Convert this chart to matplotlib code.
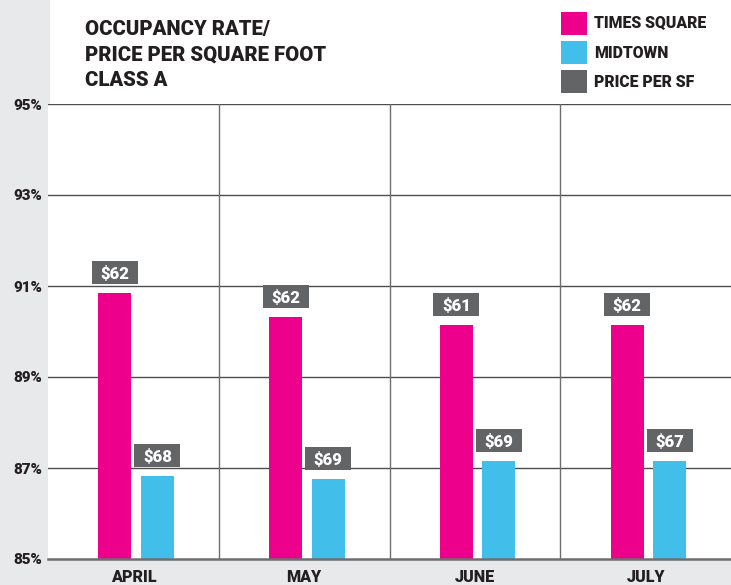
import matplotlib
matplotlib.use("Agg")
import matplotlib.pyplot as plt
from matplotlib.patches import Rectangle
import numpy as np

months = ["APRIL", "MAY", "JUNE", "JULY"]
times_square = [90.85, 90.32, 90.14, 90.14]
midtown = [86.82, 86.76, 87.15, 87.15]
ts_price = ["$62", "$62", "$61", "$62"]
mid_price = ["$68", "$69", "$69", "$67"]
yticks = [85, 87, 89, 91, 93, 95]
ytick_labels = ["85%", "87%", "89%", "91%", "93%", "95%"]
series_names = ["TIMES SQUARE", "MIDTOWN", "PRICE PER SF"]
title_lines = ["OCCUPANCY RATE/", "PRICE PER SQUARE FOOT", "CLASS A"]

PINK = "#ec008c"
BLUE = "#41bfea"
DGRAY = "#636466"
BG = "#e8e9eb"
TXT = "#231f20"
FONT = "Roboto"
WT = 900

W, H = 731, 585
fig = plt.figure(figsize=(W / 100, H / 100), dpi=100, facecolor=BG)

def fx(px):
    return px / W

def fy(py):
    return 1 - py / H

# white panel
fig.patches.append(Rectangle((fx(50), fy(558)), 1 - fx(50), fy(0) - fy(558),
                             transform=fig.transFigure, facecolor="white",
                             edgecolor="none", zorder=0))

ax_l, ax_r, ax_t, ax_b = 48, 731, 104, 559
ax = fig.add_axes([fx(ax_l), fy(ax_b), fx(ax_r - ax_l), fy(ax_t) - fy(ax_b)])
ax.set_zorder(3)
ax.set_facecolor("white")
ax.set_xlim(-0.5, 3.5)
ax.set_ylim(85, 95)

px_per_x = (ax_r - ax_l) / 4.0
px_per_y = (ax_b - ax_t) / 10.0

x = np.arange(len(months))
bw = 33 / px_per_x
off_p = -18.5 / px_per_x
off_b = 24 / px_per_x

for yv in yticks[1:]:
    ax.axhline(yv, color="#4d4d4f", lw=1.0, zorder=1)
for xv in [0.5, 1.5, 2.5]:
    ax.axvline(xv, color="#6d6e70", lw=1.0, zorder=1)

ax.bar(x + off_p, np.array(times_square) - 85, bottom=85, width=bw, color=PINK, zorder=3)
ax.bar(x + off_b, np.array(midtown) - 85, bottom=85, width=bw, color=BLUE, zorder=3)

box_w = 46 / px_per_x
box_h = 23 / px_per_y
gap = 9 / px_per_y
for xs, vals, labs in [(x + off_p, times_square, ts_price), (x + off_b, midtown, mid_price)]:
    for xc, v, lab in zip(xs, vals, labs):
        ax.add_patch(Rectangle((xc - box_w / 2, v + gap), box_w, box_h,
                               facecolor=DGRAY, edgecolor="none", zorder=4))
        ax.text(xc, v + gap + box_h / 2, lab, ha="center", va="center_baseline",
                color="white", fontsize=12, fontweight=WT, family=FONT, zorder=5)

for s in ["top", "right", "left"]:
    ax.spines[s].set_visible(False)
ax.spines["bottom"].set_color("#6d6e70")
ax.spines["bottom"].set_linewidth(1.8)
ax.spines["bottom"].set_zorder(6)

ax.set_yticks(yticks)
ax.set_yticklabels(ytick_labels)
ax.set_xticks(x)
ax.set_xticklabels(months)
ax.tick_params(axis="both", length=0)
ax.tick_params(axis="y", pad=4)
ax.tick_params(axis="x", pad=7)
for t in ax.get_yticklabels():
    t.set_fontfamily(FONT)
    t.set_fontweight(WT)
    t.set_fontsize(11)
    t.set_color(TXT)
for t in ax.get_xticklabels():
    t.set_fontfamily(FONT)
    t.set_fontweight(WT)
    t.set_fontsize(11.6)
    t.set_color(TXT)

# title
for line, base in zip(title_lines, [35, 60.5, 86]):
    fig.text(fx(85), fy(base), line, ha="left", va="baseline", fontsize=14.6,
             fontweight=WT, family=FONT, color=TXT)

# legend
leg_colors = [PINK, BLUE, DGRAY]
for name, col, top, base in zip(series_names, leg_colors, [12, 41, 70], [28, 58, 87]):
    fig.patches.append(Rectangle((fx(561), fy(top + 23)), fx(26), fy(top) - fy(top + 23),
                                 transform=fig.transFigure, facecolor=col,
                                 edgecolor="none", zorder=2))
    fig.text(fx(594), fy(base), name, ha="left", va="baseline", fontsize=11.3,
             fontweight=WT, family=FONT, color=TXT)

fig.savefig("out.png", dpi=100, facecolor=BG)
